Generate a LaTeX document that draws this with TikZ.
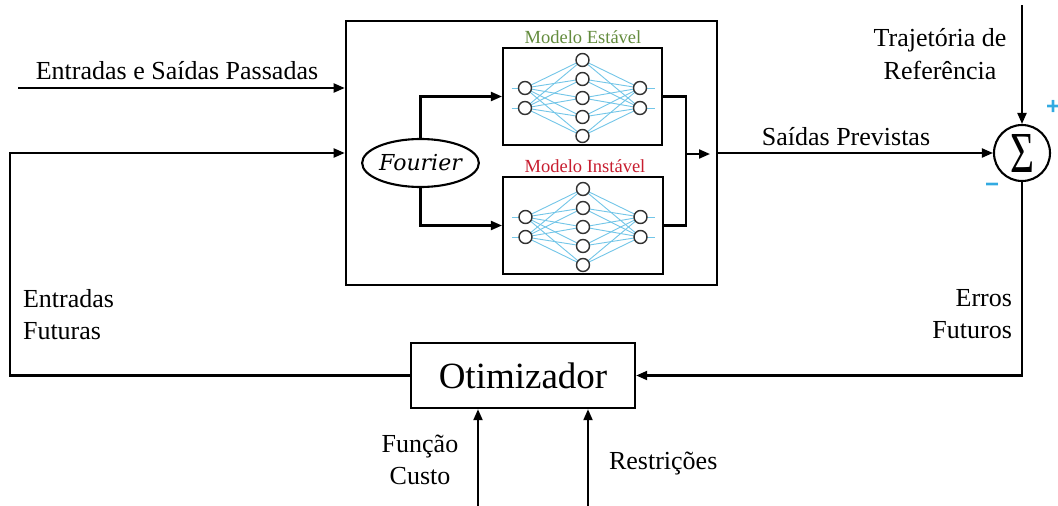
\documentclass[tikz,border=0pt]{standalone}
\usepackage{fontspec}
\usepackage{graphicx}
\setmainfont{Liberation Serif}
\setsansfont{Liberation Sans}
\newfontfamily\fourierfont{DejaVu Serif}
\usetikzlibrary{arrows.meta,shapes.geometric}

\definecolor{nnblue}{RGB}{115,198,232}
\definecolor{neurongray}{RGB}{50,50,50}
\definecolor{stablegreen}{RGB}{100,140,62}
\definecolor{unstablered}{RGB}{200,30,48}
\definecolor{signblue}{RGB}{50,170,225}

\tikzset{
  lbl/.style={font=\fontsize{26}{32}\selectfont, inner sep=0pt, anchor=base},
  block/.style={draw, rectangle, inner sep=0pt, fill=white},
  nnlink/.style={nnblue, line width=0.9pt},
  neuron/.style={draw=neurongray, fill=white, line width=1.4pt},
  pics/nnet/.style={code={
    \foreach \a in {-10,10} {
      \draw[nnlink] (-71,\a) -- (-57.5,\a);
      \draw[nnlink] (57.5,\a) -- (72,\a);
      \foreach \b in {-38,-19,0,19,38} {
        \draw[nnlink] (-57.5,\a) -- (0,\b);
        \draw[nnlink] (0,\b) -- (57.5,\a);
      }
    }
    \foreach \a in {-10,10} {
      \draw[neuron] (-57.5,\a) circle[radius=6.5];
      \draw[neuron] (57.5,\a) circle[radius=6.5];
    }
    \foreach \b in {-38,-19,0,19,38}
      \draw[neuron] (0,\b) circle[radius=6.5];
  }}
}

\begin{document}
\begin{tikzpicture}[x=1pt, y=-1pt, line width=2.1pt,
  >={Triangle[length=11pt,width=9pt]}]
\useasboundingbox (0,0) rectangle (1058,506);

% blocks
\node[block, line width=2.6pt, minimum width=371pt, minimum height=264pt] (main) at (531.5,153) {};
\node[block, minimum width=159pt, minimum height=97pt] (nn1) at (582.5,96.5) {};
\node[block, minimum width=160pt, minimum height=97pt] (nn2) at (583,225.5) {};
\node[draw, ellipse, inner sep=0pt, minimum width=115pt, minimum height=48pt,
      font=\fourierfont\itshape\fontsize{22}{26}\selectfont] (fourier) at (420.5,163) {Fourier};
\node[draw, circle, inner sep=0pt, minimum size=56pt] (sum) at (1022,153)
  {\resizebox{24pt}{38pt}{Σ}};
\node[block, line width=2.4pt, minimum width=224pt, minimum height=65pt,
      font=\fontsize{37}{40}\selectfont] (opt) at (523,375.5) {Otimizador};

% neural networks
\pic at (582.5,98) {nnet};
\pic at (583,227) {nnet};
\node[font=\fontsize{18.5}{20}\selectfont, text=stablegreen, inner sep=0pt] (lblstable) at (583,37) {Modelo Estável};
\node[font=\fontsize{18.5}{20}\selectfont, text=unstablered, inner sep=0pt] (lblunstable) at (585,166) {Modelo Instável};

% connector end points
\coordinate (pastin) at (18,88);
\coordinate (fbx) at (10,375.5);
\coordinate (merge) at (686,154);
\coordinate (mergetip) at (710,154);
\coordinate (refin) at (1022,5);
\coordinate (costin) at (478,506);
\coordinate (restin) at (588,506);

% connectors
\draw[->] (pastin) -- (pastin -| main.west);
\draw[->] (opt.west) -| (fbx) |- (main.west);
\draw[->] (fourier.north) |- (nn1.west);
\draw[->] (fourier.south) |- (nn2.west);
\draw (nn1.east) -| (merge);
\draw (nn2.east) -| (merge);
\draw[->] (merge) -- (mergetip);
\draw[->] (main.east |- sum.west) -- (sum.west);
\draw[->] (refin) -- (sum.north);
\draw[->] (sum.south) |- (opt.east);
\draw[->] (costin) -- (costin |- opt.south);
\draw[->] (restin) -- (restin |- opt.south);

% signs at the summing junction
\node[font=\sffamily\bfseries\fontsize{24}{24}\selectfont, text=signblue, inner sep=0pt] (plus) at (1053,107) {+};
\node[font=\sffamily\bfseries\fontsize{24}{24}\selectfont, text=signblue, inner sep=0pt] (minus) at (992,188) {−};

% labels
\node[lbl] (pastlbl) at (177,79) {Entradas e Saídas Passadas};
\node[lbl] (predlbl) at (846,145) {Saídas Previstas};
\node[lbl, font=\fontsize{26}{33}\selectfont] (reflbl) at (940,46)
  {\begin{tabular}[t]{@{}c@{}}Trajetória de\\Referência\end{tabular}};
\node[lbl, anchor=base west] (futin) at (22,307)
  {\begin{tabular}[t]{@{}l@{}}Entradas\\Futuras\end{tabular}};
\node[lbl, anchor=base east] (futerr) at (1013,306)
  {\begin{tabular}[t]{@{}r@{}}Erros\\Futuros\end{tabular}};
\node[lbl] (costlbl) at (420,452)
  {\begin{tabular}[t]{@{}c@{}}Função\\Custo\end{tabular}};
\node[lbl, anchor=base west] (restlbl) at (608,469) {Restrições};
\end{tikzpicture}
\end{document}
